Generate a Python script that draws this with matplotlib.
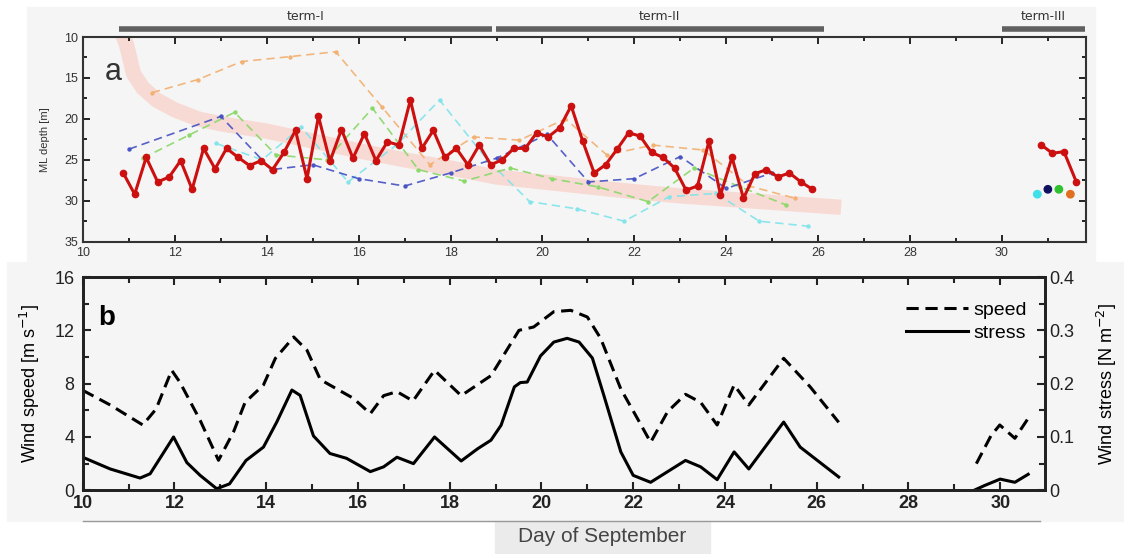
import numpy as np
import matplotlib.pyplot as plt
from matplotlib.lines import Line2D
from matplotlib.patches import Rectangle
from matplotlib.ticker import MultipleLocator, FuncFormatter
from matplotlib.transforms import blended_transform_factory

plt.rcParams['font.family'] = ['Liberation Sans', 'DejaVu Sans']

# ---- panel a: mixed layer depth [m] ----
ml_days = np.arange(10.875, 26.0, 0.25)
ml_depth = [26.6, 29.2, 24.7, 27.7, 27.1, 25.1, 28.6, 23.6, 26.1, 23.6,
            24.7, 25.7, 25.1, 26.2, 24.1, 21.4, 27.3, 19.7, 25.2, 21.3,
            24.8, 21.8, 25.1, 22.8, 23.2, 17.7, 23.6, 21.4, 24.7, 23.6,
            25.6, 23.2, 25.6, 25.0, 23.6, 23.6, 21.7, 22.2, 21.1, 18.4,
            22.7, 26.6, 25.6, 23.7, 21.7, 22.1, 24.1, 24.7, 26.0, 28.7,
            28.2, 22.7, 29.3, 24.7, 29.7, 26.7, 26.2, 27.1, 26.6, 27.7,
            28.6]
ml3_days = [30.86, 31.1, 31.35, 31.62]
ml3_depth = [23.2, 24.2, 24.0, 27.7]

orange_days = [11.5, 12.5, 13.45, 14.5, 15.5, 16.5, 17.55, 18.5, 19.5, 20.5,
               21.4, 22.4, 23.5, 24.5, 25.5]
orange_depth = [16.8, 15.2, 13.0, 12.4, 11.8, 18.5, 25.6, 22.2, 22.6, 20.0,
                24.4, 23.2, 23.8, 28.2, 29.7]
blue_days = [11.0, 13.0, 14.1, 15.0, 16.0, 17.0, 18.0, 19.0, 20.1, 21.0,
             22.0, 23.0, 24.0, 25.0]
blue_depth = [23.7, 19.7, 26.2, 25.6, 27.3, 28.2, 26.6, 24.8, 21.9, 27.7,
              27.3, 24.6, 28.5, 26.6]
green_days = [11.3, 12.3, 13.3, 14.2, 15.3, 16.3, 17.3, 18.3, 19.3, 20.2,
              21.2, 22.3, 23.3, 24.3, 25.3]
green_depth = [24.8, 22.0, 19.2, 24.4, 25.0, 18.7, 26.2, 27.6, 26.0, 27.3,
               28.3, 30.1, 26.0, 28.3, 30.5]
cyan_days = [12.9, 13.9, 14.75, 15.77, 16.82, 17.76, 18.8, 19.72, 20.76,
             21.78, 22.76, 23.78, 24.72, 25.77]
cyan_depth = [23.0, 25.0, 21.0, 27.7, 23.2, 17.7, 25.0, 30.1, 31.0, 32.5,
              29.5, 29.1, 32.5, 33.1]
dots3_days = [30.77, 31.0, 31.24, 31.49]
dots3_depth = [29.2, 28.6, 28.6, 29.2]
dots3_colors = ['#40e0e8', '#101060', '#30c030', '#e07020']

band_days = [10.85, 10.95, 11.1, 11.3, 11.6, 12.0, 12.5, 13.0, 14.0, 15.0,
             16.0, 17.0, 18.0, 19.0, 20.0, 21.0, 22.0, 23.0, 24.0, 25.0,
             26.0, 26.5]
band_depth = [9.5, 11.0, 14.5, 16.2, 17.7, 18.9, 20.0, 20.6, 21.5, 22.7,
              23.9, 25.0, 26.0, 27.1, 27.7, 28.3, 28.9, 29.4, 29.8, 30.2,
              30.6, 30.8]

terms = ['term-I', 'term-II', 'term-III']
term_start = [10.78, 18.98, 30.0]
term_end = [18.9, 26.13, 31.8]

# ---- panel b: wind ----
speed_days = [10.0, 10.6, 11.31, 11.6, 11.94, 12.12, 12.56, 12.96, 13.29,
              13.54, 13.94, 14.2, 14.6, 14.89, 15.18, 15.54, 15.9, 16.27,
              16.56, 16.85, 17.2, 17.67, 18.25, 18.9, 19.51, 19.83, 20.27,
              20.64, 21.0, 21.29, 21.73, 22.09, 22.38, 22.75, 23.14, 23.47,
              23.83, 24.2, 24.52, 25.28, 25.86, 26.48]
speed = [7.5, 6.4, 4.9, 6.1, 9.0, 8.1, 5.25, 2.25, 4.4, 6.6, 7.9, 9.9, 11.5,
         10.5, 8.3, 7.6, 6.9, 5.75, 7.1, 7.4, 6.7, 9.0, 7.1, 8.6, 12.0, 12.25,
         13.4, 13.5, 13.0, 11.4, 7.6, 5.4, 3.6, 5.9, 7.2, 6.6, 4.9, 7.9, 6.4,
         9.9, 7.75, 5.1]
speed3_days = [29.48, 29.8, 29.99, 30.32, 30.61]
speed3 = [2.0, 4.1, 4.9, 3.9, 5.4]

stress_days = [10.0, 10.6, 11.25, 11.47, 11.98, 12.27, 12.56, 12.92, 13.2,
               13.56, 13.94, 14.23, 14.56, 14.74, 15.03, 15.39, 15.75, 16.27,
               16.56, 16.85, 17.21, 17.67, 18.25, 18.61, 18.9, 19.12, 19.41,
               19.54, 19.69, 19.98, 20.27, 20.56, 20.82, 21.11, 21.36, 21.73,
               22.0, 22.38, 22.75, 23.14, 23.47, 23.83, 24.2, 24.52, 25.28,
               25.64, 26.48]
stress = [0.062, 0.040, 0.023, 0.031, 0.100, 0.052, 0.028, 0.003, 0.012,
          0.056, 0.081, 0.128, 0.188, 0.178, 0.102, 0.069, 0.060, 0.035,
          0.044, 0.062, 0.050, 0.100, 0.055, 0.078, 0.094, 0.122, 0.194,
          0.202, 0.203, 0.252, 0.278, 0.285, 0.278, 0.248, 0.178, 0.072,
          0.028, 0.015, 0.035, 0.056, 0.044, 0.020, 0.072, 0.040, 0.128,
          0.081, 0.025]
stress3_days = [29.43, 29.66, 30.0, 30.32, 30.61]
stress3 = [0.0, 0.009, 0.021, 0.015, 0.030]

W, H = 1124, 554
BG = '#f5f5f5'

fig = plt.figure(figsize=(W / 100, H / 100), dpi=100)
fig.patches.append(Rectangle((27 / W, 1 - 262 / H), (1095 - 27) / W, 255 / H,
                             transform=fig.transFigure, color=BG, zorder=-10))
fig.patches.append(Rectangle((7 / W, 1 - 521 / H), (W - 7) / W, 259 / H,
                             transform=fig.transFigure, color=BG, zorder=-10))
fig.patches.append(Rectangle((495 / W, 0), 215 / W, 33 / H,
                             transform=fig.transFigure, color='#ebebeb', zorder=-10))
fig.lines.append(Line2D([83 / W, 1040 / W], [1 - 521 / H, 1 - 521 / H],
                        transform=fig.transFigure, color='#999999', lw=1))

# panel a
ax = fig.add_axes([83 / W, 1 - 241.7 / H, 1003 / W, 204.7 / H])
ax.set_facecolor(BG)
ax.plot(band_days, band_depth, color='#f8dad5', lw=11, solid_capstyle='butt',
        zorder=1)
for d, v, c in [(orange_days, orange_depth, '#f2b070'),
                (cyan_days, cyan_depth, '#80e4ea'),
                (green_days, green_depth, '#88d866'),
                (blue_days, blue_depth, '#4450c4')]:
    ax.plot(d, v, ls=(0, (5, 3)), lw=1.2, color=c, marker='o', ms=2.2,
            alpha=0.9, zorder=2)
ax.plot(ml_days, ml_depth, '-o', color='#cc1010', lw=2.2, ms=4.5, zorder=4)
ax.plot(ml3_days, ml3_depth, '-o', color='#cc1010', lw=2.2, ms=4.5, zorder=4)
ax.scatter(dots3_days, dots3_depth, c=dots3_colors, s=28, zorder=4)

ax.set_xlim(10, 31.83)
ax.set_ylim(35, 10)
ax.xaxis.set_major_locator(MultipleLocator(2))
ax.xaxis.set_minor_locator(MultipleLocator(1))
ax.yaxis.set_major_locator(MultipleLocator(5))
ax.yaxis.set_minor_locator(MultipleLocator(2.5))
ax.tick_params(which='both', direction='in', top=True, right=True,
               labelsize=9, labelcolor='#333333', width=1.2)
ax.tick_params(which='major', length=5)
ax.tick_params(which='minor', length=3)
for s in ax.spines.values():
    s.set_linewidth(1.5)
    s.set_color('#333333')
ax.set_ylabel('ML depth [m]', fontsize=8, color='#333333')
ax.yaxis.set_label_coords(-0.033, 0.5)
ax.text(0.022, 0.83, 'a', transform=ax.transAxes, fontsize=22, va='center',
        color='#333333')

trans = blended_transform_factory(ax.transData, ax.transAxes)
for name, s, e in zip(terms, term_start, term_end):
    ax.plot([s, e], [1.04, 1.04], transform=trans, color='#606060', lw=4,
            solid_capstyle='butt', clip_on=False)
    ax.text((s + e) / 2, 1.1, name, transform=trans, ha='center', va='center',
            fontsize=9, color='#333333', family='DejaVu Sans')

# panel b
axb = fig.add_axes([82.7 / W, 1 - 490.3 / H, 962 / W, 213.3 / H])
axb.set_facecolor(BG)
axb.plot(speed_days, speed, color='k', lw=2.2, ls=(0, (4, 2.2)))
axb.plot(speed3_days, speed3, color='k', lw=2.2, ls=(0, (4, 2.2)))
axb.set_xlim(10, 30.97)
axb.set_ylim(0, 16)
axb.xaxis.set_major_locator(MultipleLocator(2))
axb.xaxis.set_minor_locator(MultipleLocator(1))
axb.yaxis.set_major_locator(MultipleLocator(4))
axb.yaxis.set_minor_locator(MultipleLocator(2))
axb.tick_params(which='both', direction='in', top=True, labelsize=13,
                width=1.5, colors='#222222')
axb.tick_params(axis='y', pad=6)
axb.tick_params(which='major', length=6)
axb.tick_params(which='minor', length=4)
for lab in axb.get_xticklabels():
    lab.set_fontweight('bold')
axb.set_ylabel('Wind speed [m s$^{-1}$]', fontsize=13)
axb.yaxis.set_label_coords(-0.042, 0.5)
axb.text(0.016, 0.81, 'b', transform=axb.transAxes, fontsize=20,
         fontweight='bold', va='center')

axb2 = axb.twinx()
axb2.plot(stress_days, stress, color='k', lw=2.2)
axb2.plot(stress3_days, stress3, color='k', lw=2.2)
axb2.set_ylim(0, 0.4)
axb2.yaxis.set_major_locator(MultipleLocator(0.1))
axb2.yaxis.set_minor_locator(MultipleLocator(0.05))
axb2.yaxis.set_major_formatter(FuncFormatter(lambda v, p: f'{v:g}'))
axb2.tick_params(which='both', direction='in', labelsize=13, width=1.5,
                 colors='#222222')
axb2.tick_params(which='major', length=6)
axb2.tick_params(which='minor', length=4)
axb2.set_ylabel('Wind stress [N m$^{-2}$]', fontsize=13)
axb2.yaxis.set_label_coords(1.052, 0.5)
for a in (axb, axb2):
    for s in a.spines.values():
        s.set_linewidth(2)
        s.set_color('#222222')

handles = [Line2D([], [], color='k', lw=2.2, ls=(0, (4, 2.2))),
           Line2D([], [], color='k', lw=2.2)]
axb.legend(handles, ['speed', 'stress'], loc='upper right', frameon=False,
           fontsize=14, handlelength=3.2, handletextpad=0.3, labelspacing=0.3,
           bbox_to_anchor=(1.0, 0.97))

fig.text(602 / W, 1 - 537 / H, 'Day of September', ha='center', va='center',
         fontsize=15, color='#444444')

fig.savefig('out.png', dpi=100)
